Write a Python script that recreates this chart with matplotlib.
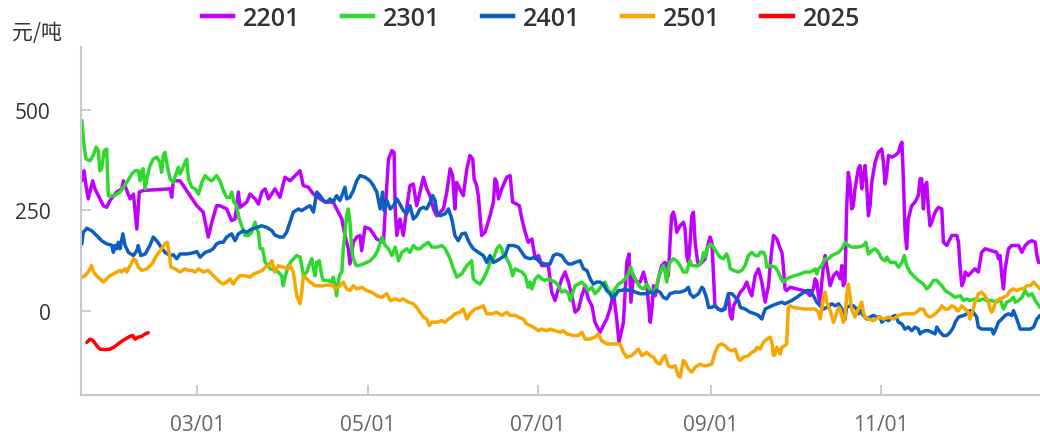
import numpy as np
import matplotlib
matplotlib.use("Agg")
import matplotlib.pyplot as plt
import matplotlib.dates as mdates
from matplotlib.lines import Line2D

# ---- data: (day of year offset from Jan 1, value in 元/吨) ----
s2201 = [(17.6,323),(18.4,348),(19.1,311),(19.9,278),(21.5,323),(22.3,303),(23.5,286),(25.3,261),(26.5,257),(27.7,274),
 (30.1,295),(31.9,303),(32.5,323),(33.7,299),(34.9,278),(36.1,290),(37.3,203),(38.2,295),(39.6,299),(49.2,303),(49.8,282),
 (50.4,323),(52.8,323),(56.4,286),(58.8,261),(61.1,245),(62.9,183),(64.2,220),(65.9,261),(67.1,261),(69.5,253),(71.3,224),
 (72.5,228),(73.7,295),(74.3,257),(76.7,270),(77.9,290),(79.7,278),(80.9,265),(82.1,295),(83.3,303),(84.5,278),(86.8,303),
 (88.6,282),(90.4,332),(92.2,323),(95.8,348),(97.0,311),(98.8,307),(100.6,290),(103.0,278),(104.8,270),(107.7,270),(108.9,253),
 (110.8,228),(111.9,187),(113.1,154),(113.7,116),(114.9,170),(116.1,183),(117.3,187),(117.9,149),(119.1,208),(120.9,203),
 (123.3,178),(125.7,170),(126.3,245),(127.5,377),(128.7,398),(129.5,394),(129.9,253),(130.5,187),(131.6,228),(132.8,187),
 (134.0,253),(135.2,311),(136.4,315),(137.6,261),(138.8,295),(140.0,332),(141.2,303),(142.4,286),(143.6,253),(144.8,236),
 (147.2,253),(148.4,295),(149.6,353),(150.5,336),(151.3,253),(151.9,319),(154.3,286),(155.6,353),(156.7,386),(157.7,377),
 (158.2,328),(159.1,311),(159.7,286),(160.9,187),(162.1,195),(163.9,236),(165.1,270),(165.7,328),(166.3,319),(166.9,278),
 (168.1,303),(169.9,332),(171.1,336),(172.0,270),(173.5,265),(174.4,261),(175.3,228),(176.5,195),(177.6,170),(178.9,178),
 (180.1,129),(181.3,137),(182.4,112),(184.8,112),(186.0,46),(187.2,25),(188.4,54),(189.6,79),(190.8,96),(192.0,71),(193.2,37),
 (194.4,-4),(195.6,4),(196.8,37),(198.0,62),(199.1,29),(200.4,12),(201.5,-29),(203.3,-54),(204.5,-37),(205.7,-21),(206.9,4),
 (208.1,46),(209.3,-21),(210.1,-79),(211.7,-29),(212.9,120),(213.7,141),(214.4,21),(215.3,87),(216.5,71),(217.7,71),(218.9,96),
 (220.1,62),(221.3,-29),(221.9,4),(222.5,62),(223.1,37),(224.2,79),(225.4,112),(226.6,120),(227.2,112),(227.8,87),(228.4,170),
 (229.0,236),(229.6,245),(230.2,228),(230.8,195),(232.0,211),(233.2,220),(233.8,203),(234.4,137),(235.0,120),(235.6,170),
 (236.2,236),(236.8,245),(237.4,170),(238.0,137),(238.6,112),(239.8,120),(241.0,129),(242.2,170),(242.8,183),(243.4,170),
 (244.0,87),(244.5,12),(245.7,4),(246.9,0),(248.1,8),(249.3,37),(250.0,-12),(250.6,-21),(251.2,12),(252.4,29),(253.6,46),
 (254.7,54),(255.9,71),(257.1,46),(257.7,37),(258.9,87),(260.1,104),(261.3,71),(262.5,21),(263.7,62),(264.3,112),(264.9,154),
 (265.5,187),(266.7,178),(267.9,154),(268.5,145),(269.0,112),(269.6,54),(270.2,50),(271.4,58),(273.8,54),(276.2,50),(277.4,46),
 (278.6,37),(279.8,54),(280.4,79),(281.0,71),(281.6,37),(282.2,21),(282.8,71),(283.4,112),(284.0,137),(284.6,112),(285.8,62),
 (287.0,87),(288.2,96),(289.4,79),(290.0,112),(290.5,62),(291.1,71),(291.7,253),(292.3,344),(292.9,319),(293.5,253),(294.1,261),
 (294.7,303),(295.9,353),(296.5,361),(297.1,303),(297.7,336),(298.3,361),(298.9,311),(299.5,236),(300.1,261),(300.7,319),
 (301.9,369),(303.1,394),(304.3,402),(304.9,369),(305.5,315),(306.1,344),(306.7,386),(307.9,382),(309.1,386),(310.3,394),
 (310.9,411),(311.5,419),(312.0,336),(312.6,203),(313.2,154),(313.8,228),(315.0,261),(316.2,270),(317.4,286),(318.0,328),
 (318.6,328),(319.2,253),(319.8,311),(320.4,319),(321.0,253),(321.6,211),(322.2,220),(323.4,245),(324.6,257),(325.8,253),
 (326.4,170),(327.6,162),(329.4,187),(331.2,187),(331.8,170),(332.4,104),(333.0,62),(333.6,71),(334.2,96),(335.3,87),
 (336.5,96),(337.7,104),(338.9,96),(340.1,145),(341.3,154),(343.7,149),(345.5,145),(346.1,129),(346.7,137),(347.3,87),
 (347.9,54),(348.5,104),(349.1,129),(349.7,154),(350.9,162),(353.3,162),(354.5,145),(355.7,162),(356.9,170),(358.1,174),
 (359.3,170),(359.9,137),(360.5,120),(361.0,120)]

s2301 = [(17.6,473),(18.4,411),(19.1,377),(20.5,373),(21.7,386),(22.7,407),(23.5,398),(24.1,348),(24.7,353),(25.6,398),
 (26.5,402),(27.1,286),(28.9,285),(31.3,295),(33.7,319),(35.5,340),(36.7,348),(37.8,348),(38.5,323),(39.1,348),(39.6,353),
 (40.3,303),(40.9,328),(42.0,361),(43.2,377),(44.4,382),(45.6,369),(46.2,344),(46.8,386),(47.4,394),(48.2,361),(49.2,328),
 (50.4,319),(51.6,344),(52.2,357),(52.8,340),(53.4,348),(54.6,369),(55.2,377),(55.8,328),(57.0,307),(58.2,303),(59.4,290),
 (60.6,319),(61.8,336),(62.9,328),(64.2,323),(65.9,336),(67.1,323),(68.3,299),(69.5,282),(70.7,282),(71.3,295),(72.1,270),
 (73.1,261),(74.0,228),(74.9,211),(76.1,187),(77.3,187),(78.5,195),(79.7,220),(80.3,203),(80.9,195),(81.5,154),(82.4,154),
 (83.3,120),(83.9,116),(85.1,104),(86.8,100),(88.0,96),(89.2,87),(89.8,62),(90.4,83),(91.6,112),(92.8,124),(94.6,137),
 (95.8,133),(96.4,112),(97.0,87),(98.2,96),(99.4,120),(100.0,129),(100.6,104),(101.2,87),(101.8,120),(102.7,124),(103.6,87),
 (104.2,75),(105.9,75),(107.2,71),(107.7,83),(108.4,62),(108.9,37),(109.5,71),(110.1,91),(110.8,96),(111.3,154),(111.9,195),
 (112.5,236),(113.1,253),(113.7,220),(114.3,154),(114.9,129),(115.9,112),(116.7,112),(118.5,116),(120.9,124),(122.7,137),
 (123.9,154),(124.5,170),(125.1,183),(126.3,162),(127.5,154),(128.7,137),(129.9,158),(131.1,124),(132.3,145),(134.0,154),
 (135.2,145),(136.4,162),(137.6,154),(138.8,154),(140.0,162),(141.8,170),(143.0,158),(144.8,158),(146.6,162),(147.8,154),
 (149.6,129),(150.8,104),(152.0,83),(153.8,92),(155.6,112),(156.7,120),(157.3,124),(157.9,79),(159.1,71),(160.3,66),
 (161.5,79),(162.7,96),(163.9,120),(165.1,129),(166.3,154),(167.3,162),(168.1,154),(168.7,137),(169.3,137),(169.9,129),
 (171.1,112),(172.0,87),(172.9,104),(174.0,100),(175.3,96),(176.5,87),(177.6,58),(178.2,71),(178.9,54),(180.1,79),(181.3,87),
 (182.4,79),(183.6,75),(184.8,79),(186.0,75),(187.2,71),(188.4,62),(189.6,46),(190.8,50),(192.0,42),(192.6,25),(193.2,37),
 (194.4,62),(195.6,66),(196.8,71),(198.0,62),(199.1,50),(200.4,58),(201.5,42),(202.7,50),(203.9,62),(205.1,71),(206.3,50),
 (207.5,42),(208.7,54),(209.9,66),(211.1,71),(212.3,79),(213.5,91),(214.3,108),(215.3,87),(216.5,71),(217.7,58),(218.9,54),
 (220.1,66),(221.3,50),(222.5,42),(223.6,62),(224.2,79),(225.4,104),(226.0,112),(226.6,96),(227.2,71),(227.8,104),(228.4,120),
 (229.6,129),(230.8,124),(232.0,112),(233.2,96),(234.4,96),(235.0,112),(235.6,124),(236.2,112),(237.4,112),(238.6,112),
 (239.8,124),(240.4,145),(241.0,133),(241.6,154),(242.8,166),(244.0,158),(245.1,145),(246.3,133),(247.5,129),(248.7,141),
 (249.3,129),(250.0,104),(251.2,100),(252.9,96),(254.1,100),(255.3,112),(256.5,137),(257.7,145),(258.9,137),(260.1,137),
 (260.7,145),(261.9,145),(262.5,137),(263.1,108),(264.3,112),(266.1,108),(267.2,96),(268.5,75),(269.0,71),(270.2,79),
 (271.4,83),(273.2,87),(275.0,91),(276.8,96),(278.6,96),(279.8,100),(280.4,104),(281.0,91),(281.6,104),(282.8,112),(284.0,129),
 (285.2,129),(286.4,137),(287.6,141),(288.8,145),(290.0,154),(291.1,170),(292.3,162),(293.5,158),(295.9,158),(297.7,162),
 (298.6,170),(299.5,141),(300.7,149),(301.9,154),(303.1,145),(304.3,129),(305.5,124),(306.1,133),(307.3,120),(309.1,120),
 (310.3,108),(311.5,120),(312.4,137),(313.2,112),(314.4,96),(316.2,83),(317.4,75),(319.2,66),(320.4,54),(321.6,62),(322.8,75),
 (324.0,75),(324.6,71),(325.8,62),(327.0,50),(328.8,42),(330.6,33),(332.4,37),(333.6,25),(334.8,29),(335.9,25),(337.7,29),
 (338.9,25),(340.7,29),(341.9,25),(343.7,25),(345.5,21),(346.7,29),(347.9,4),(349.1,21),(350.3,25),(351.5,33),(352.1,21),
 (353.3,25),(354.5,33),(355.7,50),(356.9,37),(358.1,42),(359.3,25),(361.0,8)]

s2401 = [(17.6,166),(18.1,195),(19.4,205),(21.1,199),(22.9,187),(24.7,174),(26.5,166),(28.3,163),(28.9,145),(29.5,162),
 (30.1,154),(30.7,170),(31.3,154),(32.3,191),(33.1,162),(34.3,145),(36.1,137),(37.3,149),(37.8,162),(38.7,137),(40.3,141),
 (42.0,162),(43.2,183),(44.4,174),(45.6,162),(47.4,145),(49.2,137),(50.4,139),(51.6,129),(52.8,141),(55.2,141),(57.6,144),
 (58.8,147),(60.0,133),(61.8,145),(63.6,149),(64.7,154),(65.9,166),(67.1,170),(68.3,170),(69.5,183),(71.3,191),(72.5,174),
 (73.7,191),(75.5,199),(76.7,195),(78.5,203),(80.3,207),(82.1,211),(83.9,207),(85.7,199),(86.8,188),(88.6,183),(89.8,183),
 (91.0,195),(92.2,220),(93.4,245),(95.2,253),(96.4,249),(98.2,257),(99.4,261),(100.6,245),(101.8,295),(103.0,286),(104.2,274),
 (105.4,270),(106.6,278),(107.7,270),(108.9,286),(110.1,274),(111.3,295),(111.9,307),(112.5,278),(113.7,282),(114.9,299),
 (116.1,323),(117.3,336),(119.1,332),(120.9,323),(122.1,311),(123.3,295),(124.5,253),(125.4,295),(125.9,249),(126.9,274),
 (128.1,253),(129.3,261),(130.5,278),(131.6,265),(132.8,249),(134.0,241),(135.2,261),(136.4,228),(137.6,236),(138.8,253),
 (140.0,257),(141.2,253),(142.4,270),(143.4,286),(144.2,274),(144.8,245),(146.0,236),(147.8,241),(149.0,253),(150.2,228),
 (151.3,187),(152.5,174),(153.8,191),(155.0,193),(155.6,183),(156.7,166),(157.9,154),(159.7,145),(161.5,137),(162.7,120),
 (163.9,137),(165.1,120),(166.3,124),(167.5,129),(169.3,137),(170.5,162),(172.3,162),(174.0,158),(175.3,145),(176.5,133),
 (178.2,129),(180.1,133),(181.8,120),(183.6,116),(185.4,116),(186.6,137),(187.8,141),(189.6,137),(190.8,124),(192.0,116),
 (193.2,116),(194.4,120),(196.2,124),(197.4,104),(198.6,100),(199.8,79),(200.9,66),(202.1,71),(203.3,71),(204.5,66),(205.7,50),
 (206.9,42),(207.9,29),(208.7,37),(209.9,50),(211.1,50),(212.3,54),(213.5,50),(214.7,50),(215.9,46),(217.7,42),(220.1,42),
 (221.3,46),(222.5,42),(223.6,50),(224.8,46),(226.0,33),(227.2,29),(228.4,42),(230.2,46),(232.0,46),(233.8,50),(235.0,58),
 (235.6,42),(236.8,33),(238.6,42),(239.8,58),(240.4,54),(241.6,29),(242.2,8),(243.4,8),(244.5,12),(245.7,4),(246.9,0),
 (248.1,4),(248.7,25),(249.3,42),(250.6,42),(251.8,33),(252.9,25),(253.6,8),(255.3,4),(257.1,-4),(258.9,-8),(260.1,-12),
 (261.3,-21),(261.9,-8),(262.5,4),(263.7,8),(264.9,12),(266.7,17),(268.5,21),(269.6,17),(270.8,21),(272.0,25),(273.8,33),
 (275.6,42),(277.4,50),(278.6,50),(279.8,37),(281.0,21),(282.2,12),(283.4,4),(284.6,8),(286.4,17),(287.6,12),(288.8,17),
 (290.0,4),(291.1,-21),(291.7,8),(292.9,12),(294.1,12),(295.3,4),(295.9,-8),(296.5,0),(297.7,-12),(298.9,-21),(300.1,-16),
 (301.3,-12),(302.5,-16),(303.7,-16),(304.3,-29),(305.5,-21),(306.7,-25),(307.9,-16),(309.1,-12),(310.3,-29),(311.5,-33),
 (312.6,-46),(313.8,-41),(315.0,-50),(316.2,-41),(317.4,-46),(318.0,-58),(318.6,-54),(319.8,-50),(321.0,-50),(322.2,-54),
 (323.4,-58),(324.0,-41),(325.2,-54),(326.4,-62),(327.6,-62),(328.8,-54),(330.0,-41),(330.6,-29),(331.8,-16),(333.6,-12),
 (334.8,-8),(335.9,0),(337.1,-4),(338.3,-16),(338.9,-41),(340.1,-46),(341.9,-46),(343.7,-46),(344.3,-58),(344.9,-50),
 (346.1,-29),(347.3,-21),(348.5,-12),(349.7,-8),(350.9,-12),(351.5,0),(352.7,-21),(353.9,-46),(355.7,-46),(357.5,-46),
 (358.7,-41),(359.9,-21),(361.0,-12)]

s2501 = [(17.6,83),(18.7,87),(19.9,96),(21.1,112),(21.8,96),(22.9,87),(24.1,79),(25.3,71),(26.5,79),(27.7,87),(28.9,91),
 (30.1,96),(31.3,100),(31.9,96),(33.1,104),(33.7,96),(34.9,112),(36.1,129),(37.0,124),(37.8,108),(39.1,100),(40.9,104),
 (42.7,116),(44.4,137),(46.2,154),(47.4,166),(48.2,170),(49.0,137),(49.5,108),(51.0,104),(52.8,96),(54.6,104),(55.8,100),
 (57.0,100),(58.2,96),(59.4,104),(61.1,96),(62.9,100),(64.7,87),(65.9,79),(67.1,71),(68.3,66),(69.5,71),(70.7,79),(71.9,66),
 (73.1,79),(74.3,87),(76.1,87),(77.9,83),(79.1,91),(80.9,96),(82.4,100),(83.3,108),(84.5,112),(85.7,124),(86.8,96),(88.0,112),
 (89.8,108),(91.6,104),(92.2,112),(93.4,96),(94.6,37),(95.8,17),(96.4,46),(97.0,87),(98.2,79),(99.4,71),(101.2,62),(104.2,62),
 (105.9,64),(107.7,62),(108.4,54),(109.5,58),(111.3,71),(112.5,54),(113.7,50),(114.9,62),(116.1,54),(117.9,58),(119.7,50),
 (121.5,46),(123.3,37),(125.1,33),(126.9,42),(128.1,25),(129.9,29),(131.6,25),(132.8,29),(134.6,21),(136.4,17),(137.6,8),
 (138.8,-4),(140.0,-16),(141.2,-21),(142.1,-37),(143.0,-29),(144.8,-29),(146.6,-25),(147.8,-29),(149.0,-21),(150.2,-16),
 (151.3,-8),(153.1,-4),(154.3,4),(155.6,-21),(156.7,-8),(158.5,4),(160.3,8),(161.5,12),(162.7,-8),(164.5,-8),(166.3,-4),
 (168.1,-12),(169.9,-4),(171.1,-12),(172.9,-12),(174.0,-16),(175.8,-21),(177.0,-33),(178.2,-37),(179.4,-41),(181.3,-50),
 (182.4,-46),(184.2,-50),(185.4,-46),(187.2,-50),(189.0,-54),(190.2,-50),(191.4,-58),(193.8,-62),(195.6,-62),(196.8,-54),
 (198.0,-71),(199.8,-71),(201.5,-66),(202.7,-58),(203.9,-75),(205.7,-83),(207.5,-83),(209.3,-83),(210.5,-83),(211.7,-104),
 (212.9,-116),(214.7,-112),(215.9,-104),(217.1,-96),(218.3,-112),(220.1,-104),(221.3,-112),(222.5,-116),(223.6,-129),
 (224.8,-133),(226.0,-116),(226.6,-112),(227.8,-137),(229.0,-141),(230.2,-137),(231.4,-162),(232.0,-166),(232.6,-145),
 (233.2,-124),(233.8,-129),(235.0,-145),(236.2,-153),(237.4,-141),(239.2,-133),(240.4,-137),(241.6,-137),(243.4,-133),
 (244.5,-104),(245.7,-87),(246.9,-83),(248.1,-87),(249.3,-96),(250.6,-100),(251.8,-96),(252.9,-120),(253.6,-124),(254.7,-116),
 (256.5,-112),(257.7,-104),(258.9,-100),(259.5,-91),(260.7,-96),(261.9,-79),(263.1,-71),(264.3,-66),(264.9,-79),(265.5,-112),
 (266.1,-108),(266.7,-91),(267.2,-96),(267.9,-108),(268.5,-91),(269.6,-87),(270.2,-83),(270.8,8),(271.4,12),(272.6,8),
 (274.4,6),(276.8,4),(278.6,4),(280.4,4),(281.0,0),(281.6,-4),(282.2,-21),(282.8,4),(283.4,37),(284.0,46),(284.6,21),
 (285.8,0),(287.0,-29),(288.2,-4),(288.8,8),(289.4,4),(290.5,-29),(291.1,-20),(291.7,37),(292.3,66),(292.9,37),(293.5,4),
 (294.7,-16),(295.9,4),(297.1,21),(297.7,-4),(298.3,-16),(299.5,-21),(301.3,-25),(303.1,-16),(304.9,-21),(306.7,-16),
 (308.5,-21),(310.3,-12),(312.0,-8),(313.8,-8),(315.6,-8),(316.8,-4),(318.0,4),(319.2,4),(320.4,-12),(321.6,-16),(322.8,-12),
 (324.0,-4),(325.2,4),(325.8,12),(327.0,4),(328.2,4),(329.4,12),(330.6,8),(331.2,0),(331.8,0),(333.0,12),(334.2,4),(335.3,-4),
 (335.9,-21),(337.1,4),(337.7,21),(338.9,42),(340.1,46),(341.3,37),(342.5,21),(343.1,4),(343.7,-4),(344.3,4),(344.9,17),
 (345.5,25),(346.7,29),(347.9,33),(349.1,37),(350.3,50),(351.5,54),(352.7,50),(353.9,54),(355.1,54),(356.3,62),(357.5,62),
 (358.7,71),(359.9,62),(361.0,54)]

s2025 = [(19.4,-79),(20.5,-71),(21.7,-75),(22.9,-87),(24.1,-96),(25.9,-97),(27.7,-96),(29.5,-89),(31.3,-79),(33.1,-71),
 (34.9,-64),(35.8,-62),(36.7,-71),(37.8,-66),(39.1,-64),(40.3,-58),(41.4,-55)]

series_labels = ["2201", "2301", "2401", "2501", "2025"]
series_data = [s2201, s2301, s2401, s2501, s2025]
series_colors = ["#c000ff", "#2ed92e", "#0a5fbf", "#f7a700", "#ff0000"]
y_ticks = [0, 250, 500]
unit_label = "元/吨"

# ---- figure ----
W, H = 1040, 435
fig = plt.figure(figsize=(W / 100, H / 100), dpi=100)
ax = fig.add_axes([81 / W, 39 / H, (W - 81) / W, (396 - 48) / H])

base = mdates.date2num(np.datetime64("2021-01-01"))
handles = []
for lab, data, col in zip(series_labels, series_data, series_colors):
    arr = np.array(data, dtype=float)
    ax.plot(base + arr[:, 0], arr[:, 1], color=col, lw=2.5,
            solid_joinstyle="round", solid_capstyle="round")
    handles.append(Line2D([0], [0], color=col, lw=3.2))

ax.set_xlim(base + 17.3, base + 361.0)
ax.set_ylim(-210, 656)
ax.set_yticks(y_ticks)
ax.xaxis.set_major_locator(mdates.MonthLocator(bymonth=[3, 5, 7, 9, 11]))
ax.xaxis.set_major_formatter(mdates.DateFormatter("%m/%d"))

for s in ["top", "right"]:
    ax.spines[s].set_visible(False)
for s in ["left", "bottom"]:
    ax.spines[s].set_color("#c8c8c8")
    ax.spines[s].set_linewidth(1.5)

ax.tick_params(axis="both", direction="in", length=7, width=1.3, color="#c8c8c8")
ax.tick_params(axis="y", pad=22, labelsize=15, labelcolor="#333333")
ax.tick_params(axis="x", pad=14, labelsize=15, labelcolor="#666666")
for t in ax.get_xticklabels() + ax.get_yticklabels():
    t.set_family(["Open Sans", "DejaVu Sans"])

fig.text(12 / W, 1 - 33 / H, unit_label, family=["Noto Sans CJK SC", "DejaVu Sans"],
         fontsize=15, color="#333333", ha="left", va="center")

fig.legend(handles, series_labels, loc="center", bbox_to_anchor=(531 / W, 1 - 19 / H),
           ncol=5, frameon=False, handlelength=1.25, handletextpad=0.4, columnspacing=1.65,
           prop={"family": ["Open Sans", "DejaVu Sans"], "weight": "semibold", "size": 18},
           labelcolor="#333333")

fig.savefig("out.png", dpi=100)
